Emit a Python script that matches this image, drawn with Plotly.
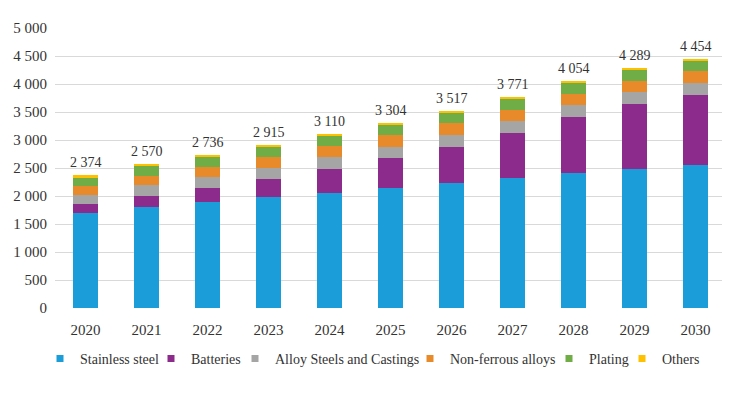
import plotly.graph_objects as go

years = ["2020", "2021", "2022", "2023", "2024", "2025", "2026", "2027", "2028", "2029", "2030"]
stainless = [1700, 1805, 1889, 1978, 2060, 2138, 2233, 2317, 2406, 2482, 2554]
batteries = [150, 196, 250, 326, 422, 535, 647, 807, 998, 1153, 1242]
alloy = [165, 190, 196, 202, 209, 207, 214, 214, 214, 219, 219]
nonferrous = [160, 171, 179, 190, 196, 203, 203, 201, 206, 202, 209]
plating = [155, 178, 183, 184, 196, 189, 183, 196, 196, 203, 190]
others = [44, 30, 39, 35, 27, 32, 37, 36, 34, 30, 40]
totals = [2374, 2570, 2736, 2915, 3110, 3304, 3517, 3771, 4054, 4289, 4454]

series_names = ["Stainless steel", "Batteries", "Alloy Steels and Castings",
                "Non-ferrous alloys", "Plating", "Others"]
series_values = [stainless, batteries, alloy, nonferrous, plating, others]
series_colors = ["#1b9dd9", "#8c2b8b", "#a5a5a5", "#e98a2a", "#70ad47", "#ffc000"]

# legend text start positions (px in the 730x409 view)
legend_text_px = [80, 191, 275, 450, 589, 662]

FONT = "Liberation Serif"
TXT = "#333333"
OFF = 8  # page body margin
W, H = 730 - OFF, 409 - OFF
L, R, T, B = 55 - OFF, 4, 28 - OFF, 100.5
PW = W - L - R
PH = H - T - B

fig = go.Figure()
layout_legends = {}
for i, (name, vals, col) in enumerate(zip(series_names, series_values, series_colors)):
    lg = "legend" if i == 0 else f"legend{i + 1}"
    fig.add_trace(go.Bar(x=years, y=vals, name=name, showlegend=False,
                         marker=dict(color=col, line=dict(width=0))))
    fig.add_trace(go.Scatter(x=[None], y=[None], mode="markers", name=name, legend=lg,
                             marker=dict(symbol="square", size=7, color=col),
                             showlegend=True, hoverinfo="skip"))
    left_px = legend_text_px[i] - OFF - 40
    layout_legends[lg] = dict(
        x=(left_px - L) / PW, xanchor="left", y=-(359.5 - OFF - (T + PH)) / PH, yanchor="middle",
        orientation="h", font=dict(family=FONT, size=14, color=TXT),
        bgcolor="rgba(0,0,0,0)", borderwidth=0, itemwidth=30,
    )

for idx, tot in enumerate(totals):
    fig.add_annotation(x=idx, y=tot, xref="x", yref="y", text=f"{tot:,}".replace(",", " "),
                       showarrow=False, yanchor="bottom", yshift=3,
                       font=dict(family=FONT, size=14, color=TXT))

fig.update_layout(
    barmode="stack",
    bargap=0.59,
    width=W, height=H,
    margin=dict(l=L, r=R, t=T, b=B, autoexpand=False),
    paper_bgcolor="white", plot_bgcolor="white",
    separators=". ",
    font=dict(family=FONT, size=14, color=TXT),
    showlegend=True,
    **layout_legends,
)
fig.update_yaxes(range=[0, 5000], dtick=500, tickformat=",d", gridcolor="#d9d9d9", gridwidth=1,
                 zeroline=False, ticks="outside", ticklen=4, tickcolor="rgba(0,0,0,0)",
                 showline=False, automargin=False,
                 tickfont=dict(family=FONT, size=15, color=TXT))
fig.update_xaxes(type="category", categoryorder="array", categoryarray=years,
                 range=[-0.5, len(years) - 0.5],
                 showgrid=False, showline=False, ticks="outside", ticklen=8,
                 tickcolor="rgba(0,0,0,0)", automargin=False,
                 tickfont=dict(family=FONT, size=15, color=TXT))

fig.write_html("out.html")
